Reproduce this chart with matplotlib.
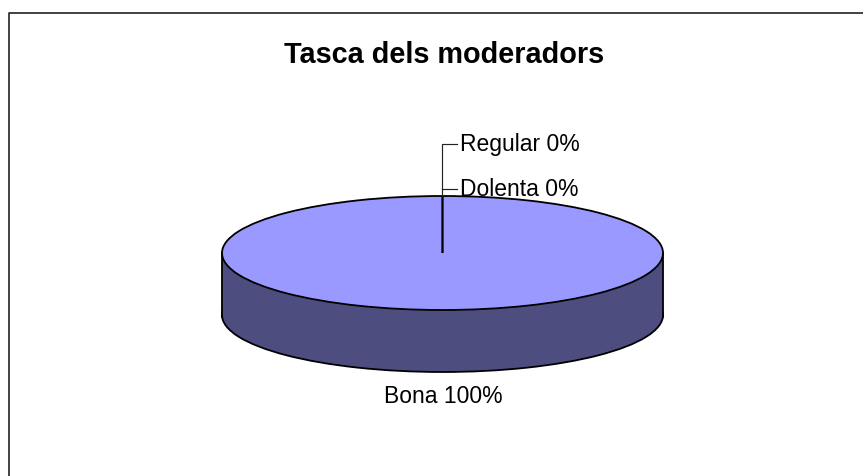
import matplotlib
matplotlib.use("Agg")
import matplotlib.pyplot as plt
from matplotlib.patches import Rectangle

plt.rcParams['font.family'] = ['Liberation Sans', 'DejaVu Sans']

title = "Tasca dels moderadors"
categories = ["Bona", "Dolenta", "Regular"]
values = [100, 0, 0]

W, H = 863, 476
cx, cy = 442.5, 253
rx, ry = 220.5, 57
depth = 62
stretch = rx / ry


def yd(py):
    # pixel row -> pie axis units, the pie is squashed by the y scale
    return (H - py) * stretch


fig = plt.figure(figsize=(W / 100, H / 100), dpi=100, facecolor='white')
ax = fig.add_axes([0, 0, 1, 1])

edge = dict(edgecolor='black', linewidth=1.3)
# lower disc first, the wall rectangle hides its upper half
ax.pie([sum(values)], colors=['#4d4d80'], radius=rx, center=(cx, yd(cy + depth)),
       startangle=90, wedgeprops=edge)
ax.add_patch(Rectangle((cx - rx, yd(cy + depth)), 2 * rx, yd(cy) - yd(cy + depth),
                       facecolor='#4d4d80', edgecolor='none', zorder=2))
ax.plot([cx - rx, cx - rx], [yd(cy), yd(cy + depth + 2)], color='black', lw=1.3, zorder=3)
ax.plot([cx + rx, cx + rx], [yd(cy), yd(cy + depth + 2)], color='black', lw=1.3, zorder=3)

ax.pie(values, colors=['#9999ff', '#993366', '#ffffcc'], radius=rx, center=(cx, yd(cy)),
       startangle=90, counterclock=False,
       wedgeprops=dict(edgecolor='black', linewidth=1.3, zorder=4))

ax.set_aspect('auto')
ax.set_xlim(0, W)
ax.set_ylim(0, yd(0))
ax.set_axis_off()

# chart frame, right and bottom sides fall outside the picture
ax.plot([8.5, 8.5, W], [yd(H), yd(13), yd(13)], color='#222222', lw=1.2, clip_on=False)

# leader lines
ax.plot([457, 442, 442], [yd(143.5), yd(143.5), yd(196)], color='#222222', lw=0.85, zorder=5)
ax.plot([457, 442], [yd(188.5), yd(188.5)], color='#222222', lw=0.85, zorder=5)

ax.text(444.5, yd(55), title, fontsize=20.8, fontweight='bold', ha='center', va='center')
label_pos = [(443, 396.5, 'center'), (460, 189.5, 'left'), (460, 144, 'left')]
for name, val, (lx, ly, ha) in zip(categories, values, label_pos):
    ax.text(lx, yd(ly), f"{name} {val}%", fontsize=16.5, ha=ha, va='center', zorder=6)

fig.savefig("out.png", dpi=100)
